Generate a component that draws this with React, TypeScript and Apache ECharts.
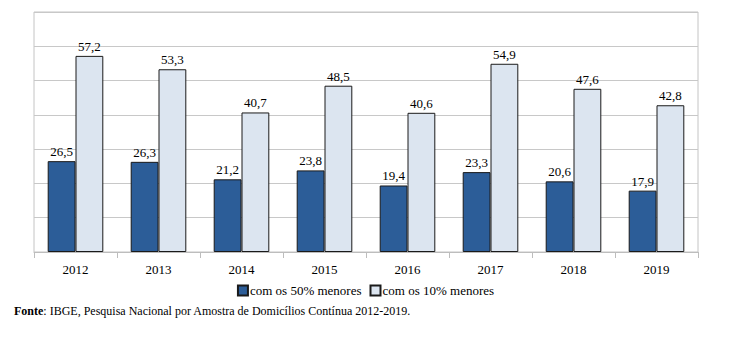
import React, { useEffect, useRef } from "react";
import * as echarts from "echarts";

const categories = ["2012", "2013", "2014", "2015", "2016", "2017", "2018", "2019"];
const menores50 = [26.5, 26.3, 21.2, 23.8, 19.4, 23.3, 20.6, 17.9];
const menores10 = [57.2, 53.3, 40.7, 48.5, 40.6, 54.9, 47.6, 42.8];
const seriesNames = ["com os 50% menores", "com os 10% menores"];
const footnoteBold = "Fonte";
const footnoteText = ": IBGE, Pesquisa Nacional por Amostra de Domicílios Contínua 2012-2019.";

const FONT = "Liberation Serif";

export default function App() {
  const ref = useRef<HTMLDivElement>(null);
  useEffect(() => {
    if (!ref.current) return;
    const chart = echarts.init(ref.current, null, { renderer: "svg" });
    const label = {
      show: true,
      position: "top" as const,
      distance: 3,
      color: "#000",
      fontFamily: FONT,
      fontSize: 13,
      formatter: (p: any) => String(p.value.toFixed(1)).replace(".", ","),
    };
    chart.setOption({
      animation: false,
      backgroundColor: "#fff",
      textStyle: { fontFamily: FONT },
      grid: {
        left: 34,
        right: 33,
        top: 12,
        bottom: 88,
        show: true,
        borderColor: "#c4c4c4",
        borderWidth: 1,
      },
      xAxis: {
        type: "category",
        data: categories,
        boundaryGap: true,
        axisLine: { show: true, lineStyle: { color: "#bdbdbd", width: 1 } },
        axisTick: { show: true, interval: 0, length: 6, lineStyle: { color: "#bdbdbd" } },
        axisLabel: { color: "#000", fontFamily: FONT, fontSize: 13, margin: 11 },
      },
      yAxis: {
        type: "value",
        min: 0,
        max: 70,
        interval: 10,
        axisLabel: { show: false },
        axisLine: { show: false },
        axisTick: { show: false },
        splitLine: { show: true, lineStyle: { color: "#c8c8c8", width: 1 } },
      },
      legend: {
        show: true,
        bottom: 38,
        left: "center",
        itemWidth: 10,
        itemHeight: 10,
        itemGap: 8,
        icon: "rect",
        textStyle: { color: "#000", fontFamily: FONT, fontSize: 13, padding: [0, 0, 0, -3] },
        data: seriesNames,
      },
      series: [
        {
          name: seriesNames[0],
          type: "bar",
          data: menores50,
          barGap: "0%",
          barCategoryGap: "33%",
          itemStyle: { color: "#2c5d98", borderColor: "#1a1a1a", borderWidth: 1 },
          label,
        },
        {
          name: seriesNames[1],
          type: "bar",
          data: menores10,
          barGap: "0%",
          barCategoryGap: "33%",
          itemStyle: { color: "#dce5f0", borderColor: "#1a1a1a", borderWidth: 1 },
          label,
        },
      ],
      graphic: [
        {
          type: "text",
          left: 14,
          top: 305,
          style: {
            text: "{b|" + footnoteBold + "}" + footnoteText,
            fontFamily: FONT,
            fontSize: 12,
            fill: "#000",
            rich: {
              b: { fontFamily: FONT, fontSize: 12, fontWeight: "bold", fill: "#000" },
            },
          },
        },
      ],
    });
    return () => chart.dispose();
  }, []);
  return (
    <div
      ref={ref}
      style={{ position: "absolute", left: 0, top: 0, width: 731, height: 340 }}
    />
  );
}
